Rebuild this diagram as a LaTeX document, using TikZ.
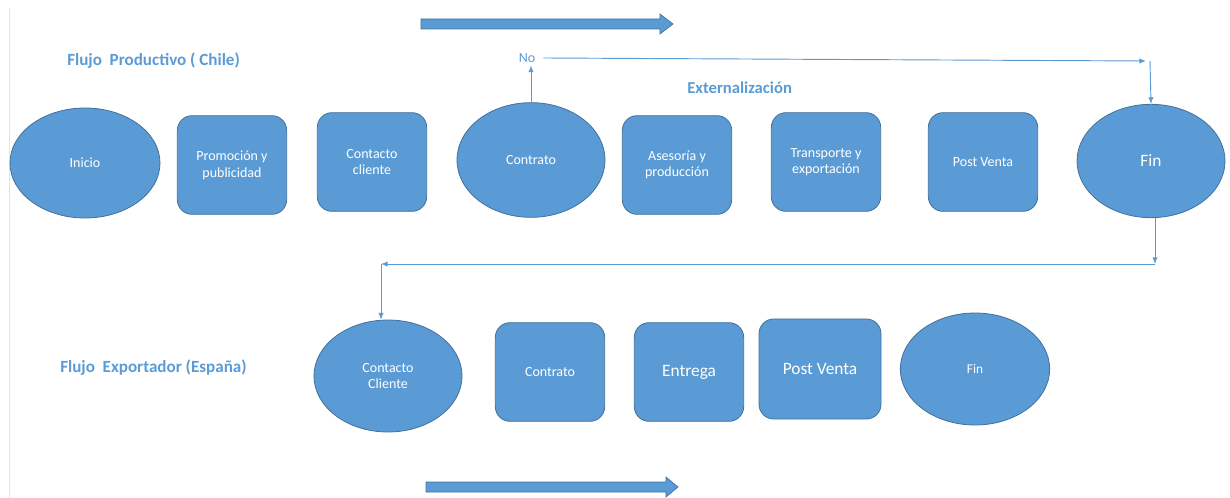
\documentclass[tikz,border=0pt]{standalone}
\usepackage{fontspec}
\setmainfont{Carlito}
\usetikzlibrary{shapes.geometric, arrows.meta}
\tikzset{>={Latex[length=5pt,width=4pt]}}
\definecolor{myblue}{RGB}{91,155,213}
\definecolor{myblue2}{RGB}{65,113,156}
\definecolor{mygray}{RGB}{228,228,228}
\tikzset{
  stepell/.style={ellipse, fill=myblue, draw=myblue2, line width=0.6pt, text=white,
    align=center, inner sep=0pt, font=\fontsize{10.5}{12.5}\selectfont},
  stepbox/.style={rectangle, rounded corners=11pt, fill=myblue, draw=myblue2, line width=0.6pt,
    text=white, align=center, inner sep=0pt, minimum width=82pt, minimum height=74pt,
    font=\fontsize{10.5}{12.5}\selectfont},
  flow/.style={draw=myblue, line width=0.7pt},
  title/.style={text=myblue, anchor=west, inner sep=0pt, font=\bfseries\fontsize{12.8}{15}\selectfont},
  bigarrow/.style={fill=myblue, draw=myblue2, line width=0.5pt}
}

\begin{document}
\begin{tikzpicture}[x=0.75pt, y=-0.75pt]
\useasboundingbox (0,0) rectangle (1230,498);
\draw[mygray, line width=0.5pt] (9,8) -- (9,498);

% block arrows
\filldraw[bigarrow] (421,19) -- (660,19) -- (660,14) -- (673,24) -- (660,34) -- (660,29) -- (421,29) -- cycle;
\filldraw[bigarrow] (426,482) -- (666,482) -- (666,477) -- (678,487) -- (666,497) -- (666,492) -- (426,492) -- cycle;

% titles
\node[title] (t1) at (67,61) {Flujo~~Productivo ( Chile)};
\node[title, font=\bfseries\fontsize{12.5}{15}\selectfont] (t2) at (687,88) {Externalización};
\node[title] (t3) at (60,368) {Flujo~~Exportador (España)};

% Chile
\node[stepell, minimum width=112.5pt, minimum height=82.5pt] (inicio) at (85,163) {Inicio};
\node[stepbox] (promo) at (232,165) {Promoción y\\publicidad};
\node[stepbox] (contacto1) at (372,162) {Contacto\\cliente};
\node[stepell, minimum width=111pt, minimum height=86pt] (contrato1) at (531,160) {Contrato};
\node[stepbox] (asesoria) at (677,165) {Asesoría y\\producción};
\node[stepbox] (transporte) at (826,162) {Transporte y\\exportación};
\node[stepbox] (post1) at (983,162) {Post Venta};
\node[stepell, minimum width=111pt, minimum height=85pt, font=\fontsize{13}{15}\selectfont] (fin1) at (1151,161) {Fin};

% España
\node[stepell, minimum width=111pt, minimum height=84pt] (contacto2) at (388,376) {Contacto\\Cliente};
\node[stepbox] (contrato2) at (550,372) {Contrato};
\node[stepbox, font=\fontsize{13}{15}\selectfont] (entrega) at (689,372) {Entrega};
\node[stepbox, minimum width=91.5pt, minimum height=75pt, font=\fontsize{13}{15}\selectfont] (post2) at (820,369) {Post Venta};
\node[stepell, minimum width=112pt, minimum height=84pt, font=\fontsize{10}{12}\selectfont] (fin2) at (975,369) {Fin};

% connectors
\node[text=myblue, font=\fontsize{10.5}{12.5}\selectfont, inner sep=2pt] (no) at (527,58) {No};
\coordinate (c1) at (1150,61);
\coordinate (c2) at (1155,264);
\coordinate (c3) at (381,264);

\draw[flow, ->] (contrato1.north) -- (contrato1.north |- no.south);
\draw[flow, ->] ([xshift=4pt]no.east) -- ([xshift=-3pt]c1);
\draw[flow, ->] (c1) -- (fin1.north);
\draw[flow, ->] (fin1.south -| c2) -- (c2);
\draw[flow, ->] (c2) -- (c3);
\draw[flow, ->] (c3) -- (c3 |- contacto2.north);
\end{tikzpicture}
\end{document}
